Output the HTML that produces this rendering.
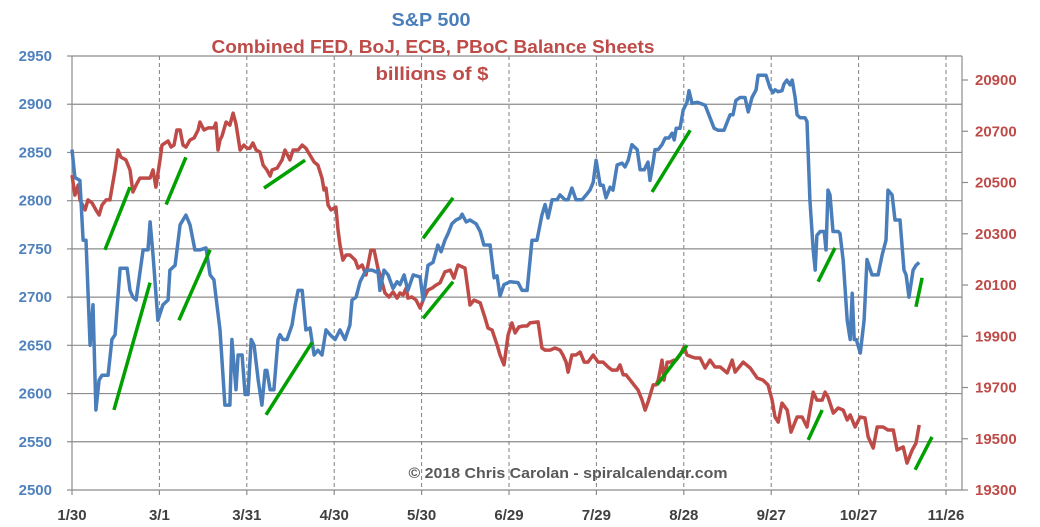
<!DOCTYPE html>
<html><head><meta charset="utf-8">
<style>
html,body{margin:0;padding:0;background:#fff;}
svg{display:block;font-family:"Liberation Sans",Arial,sans-serif;font-weight:bold;}
</style></head>
<body>
<svg id="chart" width="1040" height="527" viewBox="0 0 1040 527" xmlns="http://www.w3.org/2000/svg">
<text x="431" y="26" text-anchor="middle" font-size="18" fill="#4a7ebb" textLength="79" lengthAdjust="spacingAndGlyphs">S&amp;P 500</text>
<text x="433" y="53" text-anchor="middle" font-size="18" fill="#be4b48" textLength="443" lengthAdjust="spacingAndGlyphs">Combined FED, BoJ, ECB, PBoC Balance Sheets</text>
<text x="432" y="80" text-anchor="middle" font-size="18" fill="#be4b48" textLength="113" lengthAdjust="spacingAndGlyphs">billions of $</text>
<g id="grid"></g>
<g id="axes"></g>
<g id="series"></g>
<text x="568" y="478" text-anchor="middle" font-size="15" fill="#595959" textLength="319" lengthAdjust="spacingAndGlyphs">© 2018 Chris Carolan - spiralcalendar.com</text>
</svg>
<script>
const xTickLabels = ["1/30","3/1","3/31","4/30","5/30","6/29","7/29","8/28","9/27","10/27","11/26"];
const xTickDays = [0,30,60,90,120,150,180,210,240,270,300];
const leftTicks = [2500,2550,2600,2650,2700,2750,2800,2850,2900,2950];
const rightTicks = [19300,19500,19700,19900,20100,20300,20500,20700,20900];

const spDays = [0,1,2.7,3.8,4.8,6.2,7.2,8.2,9.3,10.3,12.4,13.7,14.8,16.5,18.9,19.9,20.9,22,24.4,26.1,26.8,27.8,29.5,31.2,33,33.6,35.4,37.1,39.1,40.5,42.2,43.9,46,47.4,48.7,50.8,52.5,54.2,54.9,56.3,57,58.4,59.4,60.4,61.5,62.5,63.9,65.2,66.3,66.9,68,69.3,70.7,71.4,72.4,73.8,75.5,76.6,77.6,79,80.3,81.7,83.1,84.4,85.8,87.2,88.6,90.3,92,93.7,95.4,96.1,97.5,98.9,100.9,103,104.4,105,105.7,107.1,108.5,110.2,111.6,112.6,114,115.3,117.1,119.5,120.5,122.2,123.9,125.6,126.7,128,129.1,130.4,131.8,133.2,133.9,135.3,136.6,138.7,140.1,141.4,143.5,144.9,145.9,146.9,148.3,150.4,153.1,154.5,156.2,157.9,159.6,161.3,162.4,163.4,164.8,166.5,167.5,169.2,170.3,171.6,173,175.1,176.5,177.8,178.9,179.9,181.3,182.3,183.3,184.7,185.7,187.1,188.8,189.8,190.9,192.2,194,195,196.4,197.7,198.4,199.5,200.1,201.2,202.5,203.6,204.9,206,206.7,207.4,208.7,209.8,211.1,211.8,212.8,214.6,215.6,217.3,219,220.4,221.8,223.8,225.2,225.9,226.9,227.9,229.3,231,232.1,233.4,234.8,235.5,238.2,239.6,240.6,241.3,242.4,243.7,244.4,245.4,246.5,247.2,248.2,248.9,249.9,251.6,252.3,253.3,254.4,255.1,255.7,256.8,258.2,258.8,259.5,260.2,261.2,263,263.6,264.7,266.1,267.1,267.8,268.5,269.2,270.6,271.9,272.9,274.6,275.7,276.7,278.1,279.4,280.1,281.5,282.5,284.2,285.6,286.3,287.3,288.7,289.7,290.8,291.8];
const spVals = [2853,2824,2821,2759,2759,2650,2692,2583,2614,2619,2619,2656,2661,2730,2730,2707,2700,2697,2749,2749,2778,2744,2676,2692,2697,2728,2733,2775,2785,2775,2749,2749,2751,2723,2718,2666,2588,2588,2656,2604,2640,2640,2599,2599,2656,2650,2614,2588,2624,2624,2604,2604,2656,2661,2656,2656,2671,2692,2707,2707,2666,2668,2640,2645,2640,2666,2661,2656,2666,2656,2671,2697,2700,2716,2728,2728,2726,2728,2707,2728,2723,2709,2716,2713,2723,2707,2723,2721,2697,2733,2736,2754,2747,2759,2766,2776,2780,2782,2786,2778,2780,2776,2768,2754,2754,2720,2722,2701,2713,2716,2715,2707,2707,2759,2759,2785,2796,2782,2801,2801,2806,2801,2801,2813,2801,2801,2806,2811,2819,2842,2816,2816,2803,2814,2811,2837,2839,2835,2842,2858,2853,2832,2832,2840,2821,2840,2853,2853,2858,2865,2865,2870,2863,2875,2875,2894,2902,2914,2901,2902,2901,2899,2886,2875,2873,2873,2884,2889,2889,2904,2907,2907,2892,2907,2915,2930,2930,2917,2912,2915,2913,2914,2921,2925,2920,2925,2907,2889,2886,2886,2882,2801,2749,2728,2764,2768,2768,2749,2811,2806,2768,2768,2766,2738,2676,2656,2704,2656,2656,2642,2676,2739,2723,2723,2723,2744,2759,2811,2806,2780,2780,2728,2723,2700,2728,2733,2736];

const bsDays = [0,1,2.1,2.7,4.5,5.5,6.9,8.2,9.3,10.3,11.7,13,14.8,15.8,16.8,18.5,19.9,20.9,22,23.3,25.4,26.8,27.8,28.8,30.2,30.9,33,34,35,36,37.1,38.1,39.1,40.5,41.9,43.3,43.9,45.3,46.7,48.7,49.4,50.1,50.8,51.5,52.9,54.2,55.3,56.3,57.7,59,60.1,61.1,62.1,63.2,64.5,65.6,66.9,68,68.7,70.4,72.1,73.1,74.8,75.9,77.6,79,80.3,81.7,83.1,84.4,85.8,86.5,87.2,87.9,88.9,90.6,91.3,92,93,94.1,95.4,97.2,98.2,99.6,100.9,101.6,102.6,103.7,105,106.4,107.4,108.8,110.2,111.6,112.6,113.6,114.7,115.3,116.7,118.1,119.5,120.8,122.2,123.6,125,126.3,128,129.8,131.1,132.5,134.9,136.6,138,140.1,141.8,142.8,144.2,145.9,146.9,148.3,149.7,151,152.1,153.4,154.8,156.2,157.2,160,161.3,162.4,164.1,165.8,167.5,168.5,169.6,170.3,171.6,173,174.4,175.8,177.1,178.9,180.6,182.3,184,185.4,187.1,188.1,189.2,190.2,191.6,192.9,194.3,195.7,196.7,197.7,199.5,200.5,201.2,201.9,202.5,203.2,204.3,205.3,206.7,207.4,208.7,210.1,211.1,212.8,213.9,215.6,217.3,219,220.7,222.5,224.9,226.6,227.6,230.4,232.8,235.2,237.2,238.9,240.3,241.3,242.4,243.7,245.5,246.8,248.9,250.6,252.3,254.4,255.7,257.5,258.5,259.5,261.3,263,264.7,266.1,267.1,268.8,270.5,272.2,273.3,275,276.4,278.4,280.1,281.9,283.2,285.3,286.6,288.4,289.7,290.8];
const bsVals = [20529,20451,20490,20432,20393,20432,20420,20393,20373,20412,20432,20432,20549,20627,20599,20588,20549,20463,20490,20517,20517,20517,20549,20482,20588,20646,20662,20638,20646,20705,20705,20646,20638,20666,20674,20705,20736,20705,20713,20713,20732,20627,20666,20681,20736,20724,20771,20728,20627,20646,20634,20634,20654,20627,20619,20568,20549,20525,20549,20556,20588,20627,20588,20627,20627,20646,20634,20607,20580,20568,20517,20471,20478,20412,20393,20404,20315,20256,20197,20217,20217,20197,20166,20178,20139,20178,20236,20236,20166,20112,20069,20053,20073,20049,20069,20061,20088,20049,20053,20041,20010,20049,20080,20088,20100,20108,20151,20158,20127,20178,20166,20022,20041,20030,19971,19932,19924,19866,19827,19788,19905,19952,19913,19936,19940,19940,19952,19956,19854,19846,19846,19854,19846,19827,19799,19760,19827,19827,19838,19799,19799,19827,19799,19799,19780,19768,19768,19788,19749,19749,19729,19710,19690,19651,19612,19643,19710,19710,19729,19768,19807,19729,19799,19799,19807,19807,19827,19858,19827,19819,19815,19815,19776,19807,19780,19780,19757,19807,19760,19799,19776,19737,19729,19710,19651,19585,19565,19639,19612,19526,19585,19585,19546,19682,19651,19651,19682,19663,19600,19620,19612,19573,19593,19546,19585,19581,19507,19464,19546,19546,19534,19534,19456,19468,19405,19456,19483,19554];

// green trend segments in S&P (left-axis) units: start day, start value, end day, end value
const trendStartDays = [11.3,14.4,32.3,36.7,65.9,66.6,120.5,120.5,199.1,200.8,256.1,252.7,289.7,289.4];
const trendStartVals = [2749,2583,2796,2676,2813,2578,2761,2678,2809,2609,2716,2552,2690,2521];
const trendEndDays = [19.9,26.8,39.1,47.4,80.0,82.4,130.8,130.8,212.2,211.1,261.9,257.5,291.8,295.2];
const trendEndVals = [2814,2715,2845,2749,2842,2653,2803,2716,2873,2650,2751,2583,2720,2555];

const X0=72, X1=946, PL=72, PR=962, PT=56, PB=490;
const xS = d => X0 + d*(X1-X0)/300;
const yL = v => PB - (v-2500)*(PB-PT)/450;
const yR = v => PB - (v-19300)*(PB-PT+ (80-56)*0)/(1600) * (410/434);
const NS="http://www.w3.org/2000/svg";
function mk(tag, attrs, parent){const e=document.createElementNS(NS,tag);for(const k in attrs)e.setAttribute(k,attrs[k]);parent.appendChild(e);return e;}
const grid=document.getElementById('grid'), axes=document.getElementById('axes'), series=document.getElementById('series');

leftTicks.forEach(v=>{
  const y=yL(v);
  if(v>2500){const l=mk('line',{x1:PL,x2:PR,y1:y,y2:y,stroke:'#8c8c8c','stroke-width':1.2},grid);
  
  }
  const tk=mk('line',{x1:PL-5,x2:PL,y1:y,y2:y,stroke:'#8c8c8c','stroke-width':1.2},axes);
  
  
  const t=mk('text',{x:52,y:y+5,'text-anchor':'end','font-size':15,fill:'#4f81bd'},axes);
  t.textContent=v;
  
  
});
xTickDays.forEach((d,i)=>{
  const x=xS(d);
  if(i>0){const l=mk('line',{x1:x,x2:x,y1:PT,y2:PB,stroke:'#7f7f7f','stroke-width':1,'stroke-dasharray':'4,3'},grid);
  
  }
  const tk=mk('line',{x1:x,x2:x,y1:PB,y2:PB+5,stroke:'#8c8c8c','stroke-width':1.2},axes);
  
  
  const t=mk('text',{x:x,y:520,'text-anchor':'middle','font-size':15,fill:'#404040'},axes);
  t.textContent=xTickLabels[i];
  
  
});
rightTicks.forEach(v=>{
  const y=490-(v-19300)*410/1600;
  const tk=mk('line',{x1:PR,x2:PR+6,y1:y,y2:y,stroke:'#8c8c8c','stroke-width':1.2},axes);
  
  
  const t=mk('text',{x:975,y:y+5,'font-size':15,fill:'#be4b48'},axes);
  t.textContent=v;
  
  
});
const la=mk('line',{x1:PL,x2:PL,y1:PT,y2:PB,stroke:'#8c8c8c','stroke-width':1.2},axes);


const ra=mk('line',{x1:PR,x2:PR,y1:PT,y2:PB,stroke:'#8c8c8c','stroke-width':1.2},axes);


const ba=mk('line',{x1:PL,x2:PR,y1:PB,y2:PB,stroke:'#8c8c8c','stroke-width':1.2},axes);



const yRight = v => 490-(v-19300)*410/1600;
const bsPts = bsDays.map((d,i)=>xS(d).toFixed(1)+','+yRight(bsVals[i]).toFixed(1)).join(' ');
const bsLine=mk('polyline',{points:bsPts,fill:'none',stroke:'#be4b48','stroke-width':3.5,'stroke-linejoin':'round'},series);


const spPts = spDays.map((d,i)=>xS(d).toFixed(1)+','+yL(spVals[i]).toFixed(1)).join(' ');
const spLine=mk('polyline',{points:spPts,fill:'none',stroke:'#4a7ebb','stroke-width':3.5,'stroke-linejoin':'round'},series);


trendStartDays.forEach((d,i)=>{
  const l=mk('line',{x1:xS(d),y1:yL(trendStartVals[i]),x2:xS(trendEndDays[i]),y2:yL(trendEndVals[i]),stroke:'#00a000','stroke-width':3.5},series);
  
  
});
</script>
</body></html>
